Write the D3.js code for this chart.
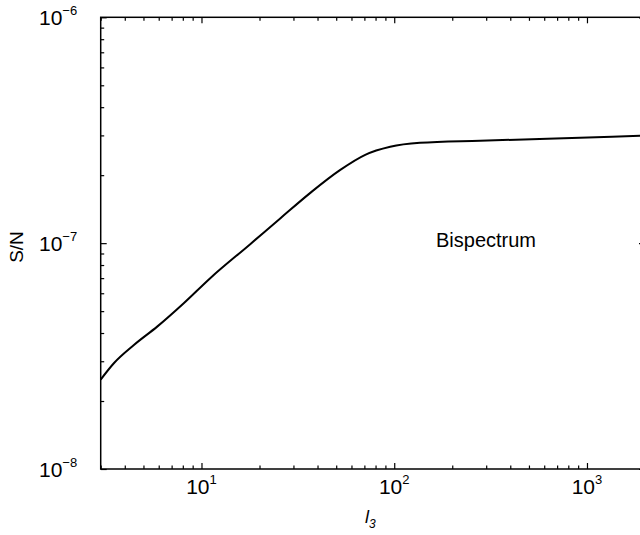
<!DOCTYPE html>
<html>
<head>
<meta charset="utf-8">
<script src="https://cdn.jsdelivr.net/npm/d3@7"></script>
<style>
  body { margin: 0; background: #fff; }
  svg { display: block; font-family: "Liberation Sans", Arial, sans-serif; }
</style>
</head>
<body>
<div id="chart"></div>
<script>
// S/N of the bispectrum versus l3
const l3 = [3, 3.51, 4.46, 5.89, 8.09, 11.1, 17.9, 25.7, 36.7, 52.5, 70.7, 95.3, 136, 279, 920, 2000];
const sn = [2.49e-8, 2.94e-8, 3.54e-8, 4.27e-8, 5.42e-8, 7.0e-8, 9.9e-8, 1.29e-7, 1.67e-7, 2.11e-7, 2.46e-7, 2.67e-7, 2.78e-7, 2.84e-7, 2.93e-7, 2.99e-7];

const xMajor = [10, 100, 1000];
const xMajorExp = ["1", "2", "3"];
const yMajor = [1e-8, 1e-7, 1e-6];
const yMajorExp = ["\u22128", "\u22127", "\u22126"];
const seriesLabel = "Bispectrum";

const W = 640, H = 535;
const mLeft = 100.7, mRight = 645, mTop = 17.3, mBottom = 469;

const x = d3.scaleLog().domain([3, 2000]).range([mLeft, mRight]);
const y = d3.scaleLog().domain([1e-8, 1e-6]).range([mBottom, mTop]);

const svg = d3.select("#chart").append("svg")
    .attr("width", W)
    .attr("height", H);

svg.append("rect").attr("width", W).attr("height", H).attr("fill", "#fff");

// minor tick values
const xMinor = [];
[1, 10, 100, 1000].forEach(d => { for (let k = 2; k <= 9; k++) { const v = d * k; if (v >= 3 && v <= 2000) xMinor.push(v); } });
const yMinor = [];
[1e-8, 1e-7].forEach(d => { for (let k = 2; k <= 9; k++) yMinor.push(d * k); });

function ticks(axisFn, scale, values, size, transform) {
    const g = svg.append("g")
        .attr("transform", transform)
        .call(axisFn(scale).tickValues(values).tickSizeInner(-size).tickSizeOuter(0).tickFormat(""));
    g.select(".domain").remove();
    g.selectAll("line").attr("stroke", "#000").attr("stroke-width", 1.2);
}

ticks(d3.axisBottom, x, xMajor, 6, `translate(0,${mBottom})`);
ticks(d3.axisBottom, x, xMinor, 3.5, `translate(0,${mBottom})`);
ticks(d3.axisTop, x, xMajor, 6, `translate(0,${mTop})`);
ticks(d3.axisTop, x, xMinor, 3.5, `translate(0,${mTop})`);
ticks(d3.axisLeft, y, yMajor, 6, `translate(${mLeft},0)`);
ticks(d3.axisLeft, y, yMinor, 3.5, `translate(${mLeft},0)`);
ticks(d3.axisRight, y, yMajor, 6, `translate(${mRight},0)`);
ticks(d3.axisRight, y, yMinor, 3.5, `translate(${mRight},0)`);

// frame
svg.append("rect")
    .attr("x", mLeft).attr("y", mTop)
    .attr("width", mRight - mLeft).attr("height", mBottom - mTop)
    .attr("fill", "none").attr("stroke", "#000").attr("stroke-width", 1.5);

// x tick labels
const xl = svg.append("g").selectAll("text")
    .data(xMajor)
    .join("text")
    .attr("x", d => x(d))
    .attr("y", 494)
    .attr("text-anchor", "middle")
    .attr("font-size", 21);
xl.append("tspan").text("10");
xl.append("tspan").attr("dy", -10).attr("font-size", 13).text((d, i) => xMajorExp[i]);

// y tick labels
const yl = svg.append("g").selectAll("text")
    .data(yMajor)
    .join("text")
    .attr("x", 39)
    .attr("y", d => y(d) + 7.5)
    .attr("font-size", 21);
yl.append("tspan").text("10");
yl.append("tspan").attr("dy", -10).attr("font-size", 13).text((d, i) => yMajorExp[i]);

// axis titles
const xt = svg.append("text")
    .attr("x", 365).attr("y", 523)
    .attr("font-size", 18)
    .attr("font-style", "italic");
xt.append("tspan").text("l");
xt.append("tspan").attr("dy", 5).attr("font-size", 12).text("3");

svg.append("text")
    .attr("transform", "translate(23,247) rotate(-90)")
    .attr("text-anchor", "middle")
    .attr("font-size", 19)
    .text("S/N");

// curve
const pts = l3.map((d, i) => [x(d), y(sn[i])]);
svg.append("path")
    .datum(pts)
    .attr("d", d3.line().curve(d3.curveMonotoneX))
    .attr("fill", "none")
    .attr("stroke", "#000")
    .attr("stroke-width", 2);

svg.append("text")
    .attr("x", 436).attr("y", 247.3)
    .attr("font-size", 20)
    .text(seriesLabel);
</script>
</body>
</html>
